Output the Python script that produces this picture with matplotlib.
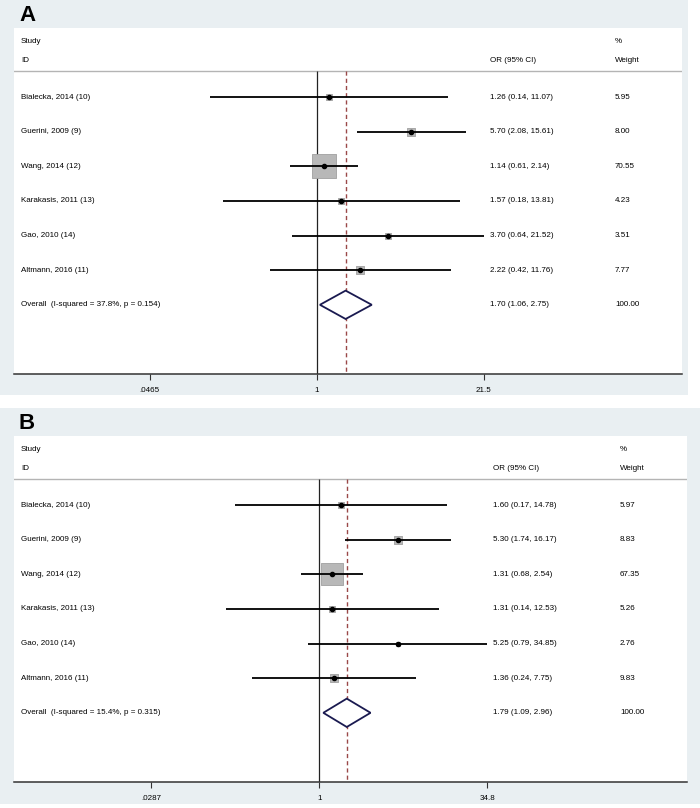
import matplotlib
matplotlib.use('Agg')
import matplotlib.pyplot as plt
import numpy as np
from matplotlib.patches import Rectangle
from matplotlib.transforms import blended_transform_factory

plt.rcParams['font.family'] = ['Liberation Sans', 'DejaVu Sans']

studies = ['Bialecka, 2014 (10)', 'Guerini, 2009 (9)', 'Wang, 2014 (12)',
           'Karakasis, 2011 (13)', 'Gao, 2010 (14)', 'Altmann, 2016 (11)']

# panel A
or_a = [1.26, 5.70, 1.14, 1.57, 3.70, 2.22]
lo_a = [0.14, 2.08, 0.61, 0.18, 0.64, 0.42]
hi_a = [11.07, 15.61, 2.14, 13.81, 21.52, 11.76]
w_a = [5.95, 8.00, 70.55, 4.23, 3.51, 7.77]
overall_a = [1.70, 1.06, 2.75]
het_a = 'Overall  (I-squared = 37.8%, p = 0.154)'
ticks_a = [0.0465, 1, 21.5]
ticklab_a = ['.0465', '1', '21.5']

# panel B
or_b = [1.60, 5.30, 1.31, 1.31, 5.25, 1.36]
lo_b = [0.17, 1.74, 0.68, 0.14, 0.79, 0.24]
hi_b = [14.78, 16.17, 2.54, 12.53, 34.85, 7.75]
w_b = [5.97, 8.83, 67.35, 5.26, 2.76, 9.83]
overall_b = [1.79, 1.09, 2.96]
het_b = 'Overall  (I-squared = 15.4%, p = 0.315)'
ticks_b = [0.0287, 1, 34.8]
ticklab_b = ['.0287', '1', '34.8']

W, H = 700, 808
fs = 5.8
bg = '#e9eff2'

fig = plt.figure(figsize=(W / 100, H / 100), dpi=100)


def px_box(x0, y0, x1, y1):
    # pixel box (top-left origin) -> figure fraction
    return [x0 / W, 1 - y1 / H, (x1 - x0) / W, (y1 - y0) / H]


def panel(letter, bgbox, axbox, xlim, ors, los, his, ws, overall, het, ticks, ticklab, col_or, col_w):
    b = px_box(*bgbox)
    fig.patches.append(Rectangle((b[0], b[1]), b[2], b[3], transform=fig.transFigure,
                                 facecolor=bg, edgecolor='none', zorder=-5))
    fig.text(b[0] + 19 / W, b[1] + b[3] - 5 / H, letter, fontsize=16, fontweight='bold',
             va='top', ha='left')

    ax = fig.add_axes(px_box(*axbox))
    ax.set_xscale('log')
    ax.set_xlim(*xlim)
    ax.set_ylim(8.0, -2.0)
    ax.set_facecolor('white')
    for s in ['top', 'left', 'right']:
        ax.spines[s].set_visible(False)
    ax.spines['bottom'].set_color('#333333')
    ax.spines['bottom'].set_linewidth(1.1)
    ax.set_yticks([])
    ax.set_xticks(ticks)
    ax.set_xticklabels(ticklab, fontsize=fs)
    ax.xaxis.set_minor_locator(matplotlib.ticker.NullLocator())
    ax.tick_params(axis='x', direction='out', length=4, width=0.8, pad=5, color='#333333')

    tr = blended_transform_factory(ax.transAxes, ax.transData)
    xl = 0.0105
    ax.text(xl, -1.62, 'Study', transform=tr, fontsize=fs, va='center')
    ax.text(xl, -1.07, 'ID', transform=tr, fontsize=fs, va='center')
    ax.text(col_or, -1.07, 'OR (95% CI)', transform=tr, fontsize=fs, va='center')
    ax.text(col_w, -1.62, '%', transform=tr, fontsize=fs, va='center')
    ax.text(col_w, -1.07, 'Weight', transform=tr, fontsize=fs, va='center')
    ax.axhline(-0.75, color='#b4b4b4', lw=1.0)

    ax.vlines(1, -0.75, 8.0, color='#222222', lw=0.9, zorder=2)
    ax.vlines(overall[0], -0.75, 8.0, color='#9a4848', lw=1.0, linestyles=(0, (3, 2.2)), zorder=2)

    n = len(ors)
    for i in range(n):
        ax.hlines(i, los[i], his[i], color='black', lw=1.3, zorder=3)
        side = 2.8 * np.sqrt(ws[i]) * 0.72
        ax.scatter([ors[i]], [i], marker='s', s=side ** 2, facecolor='#b8b8b8',
                   edgecolor='#a0a0a0', linewidth=0.6, zorder=2.5)
        ax.plot([ors[i]], [i], 'o', color='black', markersize=3, zorder=4)
        ax.text(xl, i, studies[i], transform=tr, fontsize=fs, va='center')
        ax.text(col_or, i, '%.2f (%.2f, %.2f)' % (ors[i], los[i], his[i]), transform=tr,
                fontsize=fs, va='center')
        ax.text(col_w, i, '%.2f' % ws[i], transform=tr, fontsize=fs, va='center')

    est, lo, hi = overall
    ax.fill([lo, est, hi, est, lo], [n, n - 0.41, n, n + 0.41, n], facecolor='white',
            edgecolor='#1a1a50', lw=1.3, zorder=3)
    ax.text(xl, n, het, transform=tr, fontsize=fs, va='center')
    ax.text(col_or, n, '%.2f (%.2f, %.2f)' % (est, lo, hi), transform=tr, fontsize=fs, va='center')
    ax.text(col_w, n, '100.00', transform=tr, fontsize=fs, va='center')
    return ax


panel('A', (0, 0, 688, 395), (14, 28, 682, 374), (0.00383, 824),
      or_a, lo_a, hi_a, w_a, overall_a, het_a, ticks_a, ticklab_a, 0.7126, 0.8997)
panel('B', (0, 408, 700, 804), (14, 436, 687, 782), (0.00157, 2390),
      or_b, lo_b, hi_b, w_b, overall_b, het_b, ticks_b, ticklab_b, 0.712, 0.9005)

fig.savefig('out.png', dpi=100)
